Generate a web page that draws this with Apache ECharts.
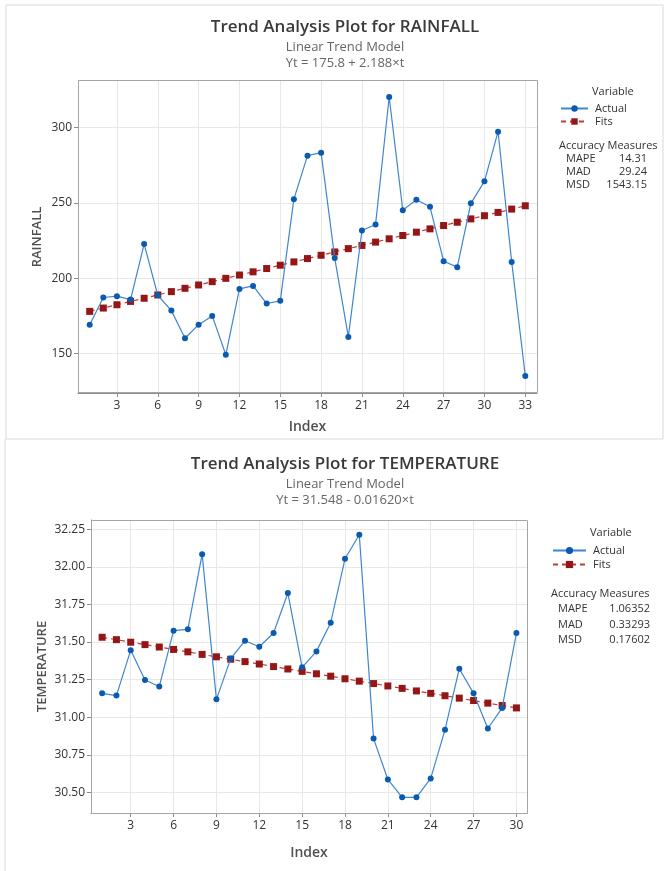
<!DOCTYPE html>
<html>
<head>
<meta charset="utf-8">
<script src="https://cdn.jsdelivr.net/npm/echarts@6/dist/echarts.min.js"></script>
<style>
  html, body { margin: 0; padding: 0; background: #fff; }
  #main { width: 665px; height: 871px; }
</style>
</head>
<body>
<div id="main"></div>
<script>
// rainfall
var rainIndex = [1,2,3,4,5,6,7,8,9,10,11,12,13,14,15,16,17,18,19,20,21,22,23,24,25,26,27,28,29,30,31,32,33];
var rainActual = [169.2,187.2,188.1,185.8,222.6,188.7,178.5,160.2,169.2,175.0,149.3,192.9,194.9,183.2,185.0,
  252.4,281.2,283.2,213.3,161.1,231.6,235.6,320.1,245.1,252.0,247.3,211.3,207.3,249.6,264.2,297.1,210.8,135.2];
var rainFits = [178.0,180.2,182.4,184.6,186.7,188.9,191.1,193.3,195.5,197.7,199.9,202.1,204.2,206.4,208.6,
  210.8,213.0,215.2,217.4,219.6,221.7,223.9,226.1,228.3,230.5,232.7,234.9,237.1,239.3,241.4,243.6,245.8,248.0];
var rainXTicks = [3,6,9,12,15,18,21,24,27,30,33];
var rainYTicks = [150,200,250,300];
var rainMeasures = [['MAPE','14.31'],['MAD','29.24'],['MSD','1543.15']];

// temperature
var tempIndex = [1,2,3,4,5,6,7,8,9,10,11,12,13,14,15,16,17,18,19,20,21,22,23,24,25,26,27,28,29,30];
var tempActual = [31.159,31.144,31.446,31.248,31.204,31.576,31.585,32.085,31.119,31.390,31.509,31.469,31.560,31.826,31.332,
  31.438,31.629,32.054,32.214,30.858,30.586,30.467,30.467,30.593,30.916,31.323,31.159,30.925,31.062,31.560];
var tempFits = [31.532,31.516,31.499,31.483,31.467,31.451,31.435,31.418,31.402,31.386,31.370,31.354,31.337,31.321,31.305,
  31.289,31.273,31.256,31.240,31.224,31.208,31.192,31.175,31.159,31.143,31.127,31.111,31.094,31.078,31.062];
var tempXTicks = [3,6,9,12,15,18,21,24,27,30];
var tempYTicks = [30.5,30.75,31.0,31.25,31.5,31.75,32.0,32.25];
var tempMeasures = [['MAPE','1.06352'],['MAD','0.33293'],['MSD','0.17602']];

var FONT = '"Open Sans", "Noto Sans", sans-serif';
var BLUE = '#0a5bb0', BLUE_LINE = '#3f86cf', RED = '#951616', RED_LINE = '#c03a3a';

function pairs(xs, ys) { return xs.map(function (x, i) { return [x, ys[i]]; }); }

function xAxis(gi, ticks, min, max) {
  return {
    type: 'value', gridIndex: gi, min: min, max: max,
    name: 'Index', nameLocation: 'middle', nameGap: gi === 0 ? 27 : 33, nameMoveOverlap: false,
    nameTextStyle: { fontFamily: FONT, fontSize: 14, fontWeight: 600, color: '#505050' },
    axisLine: { show: true, lineStyle: { color: '#8c8c8c' } },
    axisTick: { show: true, length: 4, customValues: ticks, lineStyle: { color: '#8c8c8c' } },
    axisLabel: { customValues: ticks, fontFamily: FONT, fontSize: 12, color: '#333', margin: 7, showMinLabel: true, showMaxLabel: true },
    splitLine: { show: true, lineStyle: { color: '#e8e8e8' } }
  };
}
function yAxis(gi, ticks, min, max, name, gap, fmt) {
  return {
    type: 'value', gridIndex: gi, min: min, max: max,
    name: name, nameLocation: 'middle', nameGap: gap, nameMoveOverlap: false,
    nameTextStyle: { fontFamily: FONT, fontSize: 13, fontWeight: 600, color: '#505050' },
    axisLine: { show: true, lineStyle: { color: '#8c8c8c' } },
    axisTick: { show: true, length: 4, customValues: ticks, lineStyle: { color: '#8c8c8c' } },
    axisLabel: { customValues: ticks, fontFamily: FONT, fontSize: 12, color: '#333', margin: 6, formatter: fmt },
    splitLine: { show: true, lineStyle: { color: '#e8e8e8' } }
  };
}
function actualSeries(xi, data) {
  return {
    name: 'Actual', type: 'line', xAxisIndex: xi, yAxisIndex: xi, data: data,
    symbol: 'circle', symbolSize: 6, z: 3,
    itemStyle: { color: BLUE },
    lineStyle: { color: BLUE_LINE, width: 1.2 }
  };
}
function fitsSeries(xi, data) {
  return {
    name: 'Fits', type: 'line', xAxisIndex: xi, yAxisIndex: xi, data: data,
    symbol: 'rect', symbolSize: 7, z: 2,
    itemStyle: { color: RED },
    lineStyle: { color: RED_LINE, width: 1.2, type: [5, 4] }
  };
}
function measureTexts(x0, y0, head, rows, rowGap, valRight) {
  var out = [ { type: 'text', style: { text: head, x: x0, y: y0, fontFamily: FONT, fontSize: 11, fill: '#333' } } ];
  rows.forEach(function (r, i) {
    out.push({ type: 'text', style: { text: r[0], x: x0 + 7, y: y0 + (i + 1) * rowGap, fontFamily: FONT, fontSize: 11, fill: '#333' } });
    out.push({ type: 'text', style: { text: r[1], x: valRight, y: y0 + (i + 1) * rowGap, textAlign: 'right', fontFamily: FONT, fontSize: 11, fill: '#333' } });
  });
  return out;
}

var chart = echarts.init(document.getElementById('main'), null, { renderer: 'canvas' });

var graphics = [
  { type: 'rect', shape: { x: 6, y: 5, width: 657, height: 434 }, style: { fill: 'none', stroke: '#d9d9d9', lineWidth: 1 }, silent: true },
  { type: 'line', shape: { x1: 5, y1: 439, x2: 5, y2: 871 }, style: { stroke: '#d9d9d9', lineWidth: 1 }, silent: true },
  // plot frames
  { type: 'rect', shape: { x: 78.5, y: 80.5, width: 459, height: 312 }, style: { fill: 'none', stroke: '#a6a6a6', lineWidth: 1 }, silent: true, z: 10 },
  { type: 'rect', shape: { x: 91.5, y: 520.5, width: 436, height: 293 }, style: { fill: 'none', stroke: '#a6a6a6', lineWidth: 1 }, silent: true, z: 10 },
  { type: 'text', style: { text: 'Variable', x: 592, y: 86, fontFamily: FONT, fontSize: 11, fill: '#333' } },
  { type: 'text', style: { text: 'Variable', x: 590, y: 527, fontFamily: FONT, fontSize: 11, fill: '#333' } }
].concat(measureTexts(559, 140, 'Accuracy Measures', rainMeasures, 13.2, 647))
 .concat(measureTexts(551, 588, 'Accuracy Measures', tempMeasures, 15.5, 650));

chart.setOption({
  animation: false,
  backgroundColor: '#fff',
  title: [
    { text: 'Trend Analysis Plot for RAINFALL', subtext: 'Linear Trend Model\nYt = 175.8 + 2.188×t',
      left: 340, top: 14, textAlign: 'center', itemGap: 3,
      textStyle: { fontFamily: FONT, fontSize: 17, fontWeight: 600, color: '#3a3a3a' },
      subtextStyle: { fontFamily: FONT, fontSize: 13, color: '#666', lineHeight: 16 } },
    { text: 'Trend Analysis Plot for TEMPERATURE', subtext: 'Linear Trend Model\nYt = 31.548 - 0.01620×t',
      left: 340, top: 451, textAlign: 'center', itemGap: 3,
      textStyle: { fontFamily: FONT, fontSize: 17, fontWeight: 600, color: '#3a3a3a' },
      subtextStyle: { fontFamily: FONT, fontSize: 13, color: '#666', lineHeight: 16 } }
  ],
  legend: [
    { seriesIndex: [0, 1], data: ['Actual', 'Fits'], orient: 'vertical', left: 555, top: 98,
      itemWidth: 27, itemHeight: 8, itemGap: 2, selectedMode: false,
      textStyle: { fontFamily: FONT, fontSize: 11, color: '#333', padding: [0, 0, 0, 2] } },
    { data: ['Actual', 'Fits'], orient: 'vertical', left: 547, top: 540,
      itemWidth: 33, itemHeight: 9, itemGap: 3, selectedMode: false,
      textStyle: { fontFamily: FONT, fontSize: 11, color: '#333', padding: [0, 0, 0, 2] } }
  ],
  grid: [
    { left: 78, top: 81, width: 459, height: 312 },
    { left: 91, top: 520, width: 436, height: 293 }
  ],
  xAxis: [ xAxis(0, rainXTicks, 0.14, 33.86), xAxis(1, tempXTicks, 0.22, 30.74) ],
  yAxis: [
    yAxis(0, rainYTicks, 123.9, 330.7, 'RAINFALL', 34, function (v) { return String(v); }),
    yAxis(1, tempYTicks, 30.363, 32.312, 'TEMPERATURE', 42, function (v) { return v.toFixed(2); })
  ],
  series: [
    actualSeries(0, pairs(rainIndex, rainActual)),
    fitsSeries(0, pairs(rainIndex, rainFits)),
    actualSeries(1, pairs(tempIndex, tempActual)),
    fitsSeries(1, pairs(tempIndex, tempFits))
  ],
  graphic: graphics
});
</script>
</body>
</html>
